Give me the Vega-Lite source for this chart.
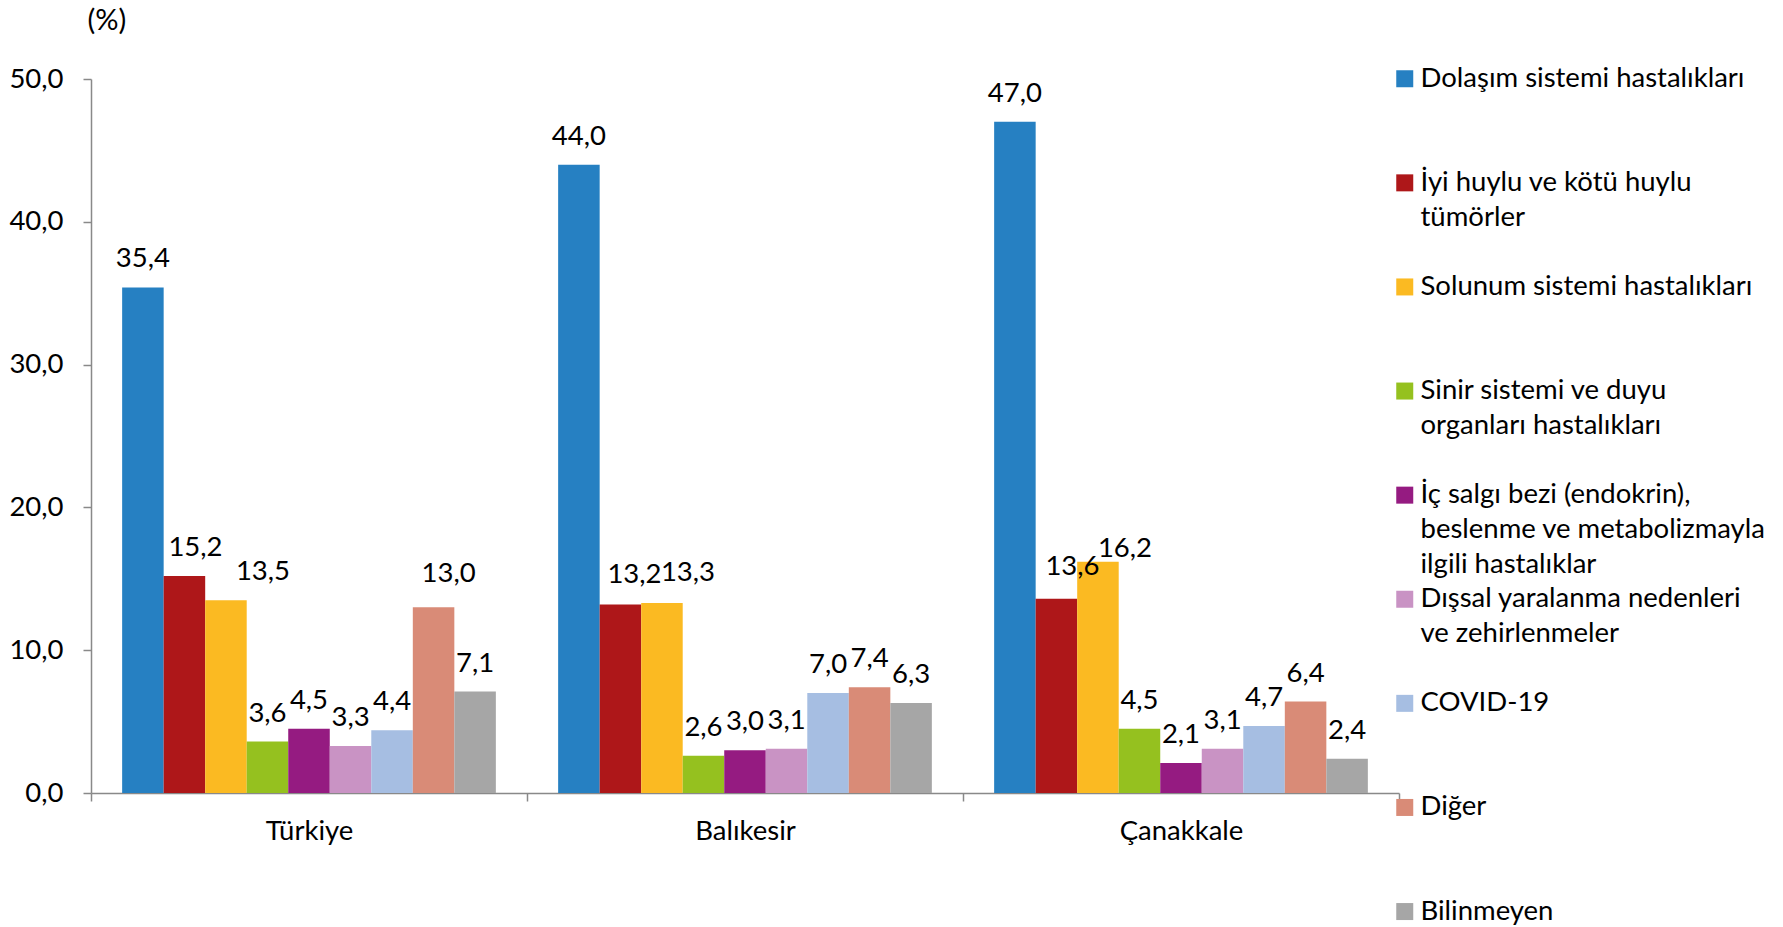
{
  "$schema": "https://vega.github.io/schema/vega-lite/v6.json",
  "autosize": {"type": "none"},
  "padding": {"left": 91, "top": 79, "right": 384, "bottom": 134},
  "width": 1308,
  "height": 714,
  "background": "white",
  "config": {
    "locale": {"number": {"decimal": ",", "thousands": ".", "grouping": [3], "currency": ["", " TL"]}},
    "font": "Lato",
    "view": {"stroke": null},
    "axis": {"labelFont": "Lato", "labelFontSize": 27.5, "labelColor": "#000000", "domainColor": "#898989", "tickColor": "#898989", "domainWidth": 1.5, "tickWidth": 1.5, "grid": false, "titleFont": "Lato", "titleColor": "#000000"},
    "style": {"guide-label": {"lineHeight": 35}}
  },
  "data": {
    "values": [
      {"bolge": "Türkiye", "neden": "Dolaşım sistemi hastalıkları", "oran": 35.4},
      {"bolge": "Türkiye", "neden": "İyi huylu ve kötü huylu tümörler", "oran": 15.2},
      {"bolge": "Türkiye", "neden": "Solunum sistemi hastalıkları", "oran": 13.5},
      {"bolge": "Türkiye", "neden": "Sinir sistemi ve duyu organları hastalıkları", "oran": 3.6},
      {"bolge": "Türkiye", "neden": "İç salgı bezi (endokrin), beslenme ve metabolizmayla ilgili hastalıklar", "oran": 4.5},
      {"bolge": "Türkiye", "neden": "Dışsal yaralanma nedenleri ve zehirlenmeler", "oran": 3.3},
      {"bolge": "Türkiye", "neden": "COVID-19", "oran": 4.4},
      {"bolge": "Türkiye", "neden": "Diğer", "oran": 13.0},
      {"bolge": "Türkiye", "neden": "Bilinmeyen", "oran": 7.1},
      {"bolge": "Balıkesir", "neden": "Dolaşım sistemi hastalıkları", "oran": 44.0},
      {"bolge": "Balıkesir", "neden": "İyi huylu ve kötü huylu tümörler", "oran": 13.2},
      {"bolge": "Balıkesir", "neden": "Solunum sistemi hastalıkları", "oran": 13.3},
      {"bolge": "Balıkesir", "neden": "Sinir sistemi ve duyu organları hastalıkları", "oran": 2.6},
      {"bolge": "Balıkesir", "neden": "İç salgı bezi (endokrin), beslenme ve metabolizmayla ilgili hastalıklar", "oran": 3.0},
      {"bolge": "Balıkesir", "neden": "Dışsal yaralanma nedenleri ve zehirlenmeler", "oran": 3.1},
      {"bolge": "Balıkesir", "neden": "COVID-19", "oran": 7.0},
      {"bolge": "Balıkesir", "neden": "Diğer", "oran": 7.4},
      {"bolge": "Balıkesir", "neden": "Bilinmeyen", "oran": 6.3},
      {"bolge": "Çanakkale", "neden": "Dolaşım sistemi hastalıkları", "oran": 47.0},
      {"bolge": "Çanakkale", "neden": "İyi huylu ve kötü huylu tümörler", "oran": 13.6},
      {"bolge": "Çanakkale", "neden": "Solunum sistemi hastalıkları", "oran": 16.2},
      {"bolge": "Çanakkale", "neden": "Sinir sistemi ve duyu organları hastalıkları", "oran": 4.5},
      {"bolge": "Çanakkale", "neden": "İç salgı bezi (endokrin), beslenme ve metabolizmayla ilgili hastalıklar", "oran": 2.1},
      {"bolge": "Çanakkale", "neden": "Dışsal yaralanma nedenleri ve zehirlenmeler", "oran": 3.1},
      {"bolge": "Çanakkale", "neden": "COVID-19", "oran": 4.7},
      {"bolge": "Çanakkale", "neden": "Diğer", "oran": 6.4},
      {"bolge": "Çanakkale", "neden": "Bilinmeyen", "oran": 2.4}
    ]
  },
  "encoding": {
    "x": {
      "field": "bolge", "type": "nominal",
      "scale": {"domain": ["Türkiye", "Balıkesir", "Çanakkale"], "paddingInner": 0, "paddingOuter": 0},
      "axis": {"title": null, "labelAngle": 0, "tickBand": "extent", "tickSize": 8, "labelPadding": 16}
    },
    "xOffset": {
      "field": "neden", "type": "nominal",
      "scale": {
        "domain": ["Dolaşım sistemi hastalıkları", "İyi huylu ve kötü huylu tümörler", "Solunum sistemi hastalıkları", "Sinir sistemi ve duyu organları hastalıkları", "İç salgı bezi (endokrin), beslenme ve metabolizmayla ilgili hastalıklar", "Dışsal yaralanma nedenleri ve zehirlenmeler", "COVID-19", "Diğer", "Bilinmeyen"],
        "paddingInner": 0, "paddingOuter": 0.75
      }
    },
    "y": {
      "field": "oran", "type": "quantitative",
      "scale": {"domain": [0, 50], "nice": false},
      "axis": {"values": [0, 10, 20, 30, 40, 50], "format": ".1f", "title": "(%)", "titleAngle": 0, "titleAlign": "left", "titleBaseline": "middle", "titleX": -4, "titleY": -59, "titleFontSize": 29, "titleFontWeight": "normal", "tickSize": 8, "labelPadding": 20}
    }
  },
  "layer": [
    {
      "mark": {"type": "bar"},
      "encoding": {
        "color": {
          "field": "neden", "type": "nominal",
          "scale": {
            "domain": ["Dolaşım sistemi hastalıkları", "İyi huylu ve kötü huylu tümörler", "Solunum sistemi hastalıkları", "Sinir sistemi ve duyu organları hastalıkları", "İç salgı bezi (endokrin), beslenme ve metabolizmayla ilgili hastalıklar", "Dışsal yaralanma nedenleri ve zehirlenmeler", "COVID-19", "Diğer", "Bilinmeyen"],
            "range": ["#2680C2", "#AE1719", "#FBBA22", "#95C11F", "#951B81", "#C993C4", "#A6BEE2", "#D98B77", "#A6A6A6"]
          },
          "legend": {
            "title": null, "orient": "none", "legendX": 1300, "legendY": -14, "padding": 0,
            "symbolType": "square", "symbolSize": 289, "symbolStrokeWidth": 0, "symbolOpacity": 1,
            "labelFont": "Lato", "labelFontSize": 27.5, "labelColor": "#000000", "labelOffset": 2, "labelLimit": 460, "rowPadding": 5.1,
            "labelExpr": "datum.label == 'İyi huylu ve kötü huylu tümörler' ? ['İyi huylu ve kötü huylu', 'tümörler', ''] : datum.label == 'Sinir sistemi ve duyu organları hastalıkları' ? ['Sinir sistemi ve duyu', 'organları hastalıkları', ''] : datum.label == 'İç salgı bezi (endokrin), beslenme ve metabolizmayla ilgili hastalıklar' ? ['İç salgı bezi (endokrin),', 'beslenme ve metabolizmayla', 'ilgili hastalıklar'] : datum.label == 'Dışsal yaralanma nedenleri ve zehirlenmeler' ? ['Dışsal yaralanma nedenleri', 've zehirlenmeler', ''] : [datum.label, '', '']"
          }
        }
      }
    },
    {
      "transform": [{"filter": "datum.neden != 'İyi huylu ve kötü huylu tümörler' && datum.neden != 'Solunum sistemi hastalıkları' && !(datum.bolge == 'Türkiye' && datum.neden == 'Diğer')"}],
      "mark": {"type": "text", "dy": -28, "fontSize": 27.5, "font": "Lato", "color": "#000000", "baseline": "middle", "align": "center"},
      "encoding": {"text": {"field": "oran", "type": "quantitative", "format": ".1f"}}
    },
    {
      "transform": [{"filter": "datum.bolge == 'Türkiye' && datum.neden == 'İyi huylu ve kötü huylu tümörler'"}],
      "mark": {"type": "text", "dx": 11, "dy": -28, "fontSize": 27.5, "font": "Lato", "color": "#000000", "baseline": "middle", "align": "center"},
      "encoding": {"text": {"field": "oran", "type": "quantitative", "format": ".1f"}}
    },
    {
      "transform": [{"filter": "datum.bolge == 'Türkiye' && datum.neden == 'Solunum sistemi hastalıkları'"}],
      "mark": {"type": "text", "dx": 37, "dy": -28, "fontSize": 27.5, "font": "Lato", "color": "#000000", "baseline": "middle", "align": "center"},
      "encoding": {"text": {"field": "oran", "type": "quantitative", "format": ".1f"}}
    },
    {
      "transform": [{"filter": "datum.bolge == 'Türkiye' && datum.neden == 'Diğer'"}],
      "mark": {"type": "text", "dx": 15, "dy": -33, "fontSize": 27.5, "font": "Lato", "color": "#000000", "baseline": "middle", "align": "center"},
      "encoding": {"text": {"field": "oran", "type": "quantitative", "format": ".1f"}}
    },
    {
      "transform": [{"filter": "datum.bolge == 'Balıkesir' && datum.neden == 'İyi huylu ve kötü huylu tümörler'"}],
      "mark": {"type": "text", "dx": 14, "dy": -30, "fontSize": 27.5, "font": "Lato", "color": "#000000", "baseline": "middle", "align": "center"},
      "encoding": {"text": {"field": "oran", "type": "quantitative", "format": ".1f"}}
    },
    {
      "transform": [{"filter": "datum.bolge == 'Balıkesir' && datum.neden == 'Solunum sistemi hastalıkları'"}],
      "mark": {"type": "text", "dx": 26, "dy": -30, "fontSize": 27.5, "font": "Lato", "color": "#000000", "baseline": "middle", "align": "center"},
      "encoding": {"text": {"field": "oran", "type": "quantitative", "format": ".1f"}}
    },
    {
      "transform": [{"filter": "datum.bolge == 'Çanakkale' && datum.neden == 'İyi huylu ve kötü huylu tümörler'"}],
      "mark": {"type": "text", "dx": 16, "dy": -32, "fontSize": 27.5, "font": "Lato", "color": "#000000", "baseline": "middle", "align": "center"},
      "encoding": {"text": {"field": "oran", "type": "quantitative", "format": ".1f"}}
    },
    {
      "transform": [{"filter": "datum.bolge == 'Çanakkale' && datum.neden == 'Solunum sistemi hastalıkları'"}],
      "mark": {"type": "text", "dx": 27, "dy": -13, "fontSize": 27.5, "font": "Lato", "color": "#000000", "baseline": "middle", "align": "center"},
      "encoding": {"text": {"field": "oran", "type": "quantitative", "format": ".1f"}}
    }
  ]
}
